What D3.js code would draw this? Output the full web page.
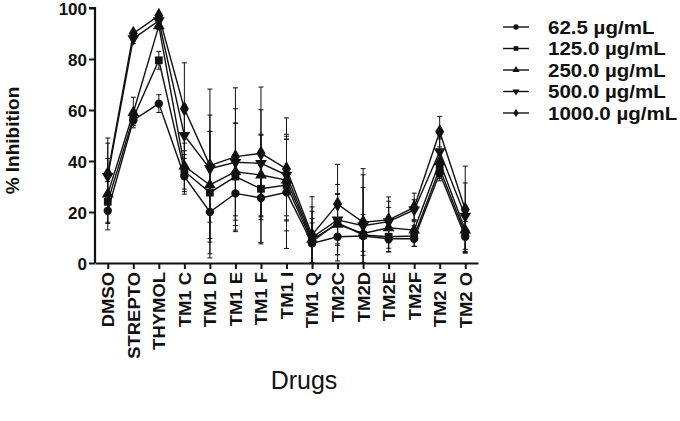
<!DOCTYPE html>
<html>
<head>
<meta charset="utf-8">
<script src="https://cdn.jsdelivr.net/npm/d3@7"></script>
<style>
  body { margin: 0; background: #fff; }
  svg { font-family: "Liberation Sans", Arial, sans-serif; }
</style>
</head>
<body>
<div id="chart"></div>
<script>
var width = 680, height = 421

// categories on the x axis
const drugs = ["DMSO", "STREPTO", "THYMOL", "TM1 C", "TM1 D", "TM1 E", "TM1 F", "TM1 I",
	"TM1 Q", "TM2C", "TM2D", "TM2E", "TM2F", "TM2 N", "TM2 O"]

const seriesNames = ["62.5 µg/mL", "125.0 µg/mL", "250.0 µg/mL", "500.0 µg/mL", "1000.0 µg/mL"]

// mean % inhibition per concentration
const c62 = [20.5, 56, 62.5, 34, 20, 27.3, 25.5, 27.7, 7.7, 10.3, 10.6, 9.5, 9.5, 35.2, 10.3]
const c125 = [24, 57, 79.5, 36, 27.6, 33.9, 29.1, 30.6, 8.4, 15.8, 11, 10.3, 10.6, 37.1, 11.6]
const c250 = [27, 59, 93, 38, 30.6, 35.8, 34.5, 32.5, 9.3, 15.2, 11.6, 13.8, 12.9, 39.7, 12.9]
const c500 = [34, 88, 95, 50, 37, 39.5, 39.1, 34.5, 10, 16.9, 14.6, 16.2, 20.8, 43.7, 18.4]
const c1000 = [35, 90, 97, 60.5, 38.2, 41.7, 43, 36.9, 11, 23.1, 16, 16.9, 21.8, 51.5, 21]

// standard deviations (error bars)
const sd62 = [5, 2, 3.5, 7, 18, 15, 18, 22, 8, 7, 6, 5, 3, 3, 6]
const sd125 = [8, 3, 3.5, 8, 24, 21, 21, 18, 9, 15, 8, 6, 4, 4, 7]
const sd250 = [14, 6, 1.5, 9, 21, 19, 16, 16, 11, 12, 18, 8, 4, 4, 9]
const sd500 = [13, 2, 1.5, 12, 21, 21, 21, 16, 12, 10, 20, 8, 4, 5, 13]
const sd1000 = [14, 1, 1, 18, 30, 27, 26, 20, 15, 15.6, 21, 9, 5.6, 6, 17]

const yTicks = [0, 20, 40, 60, 80, 100]

const means = [c62, c125, c250, c500, c1000]
const sds = [sd62, sd125, sd250, sd500, sd1000]
const symbols = [d3.symbolCircle, d3.symbolSquare, "up", "down", d3.symbolDiamond]

const series = seriesNames.map((name, i) => ({
	name: name,
	symbol: symbols[i],
	values: drugs.map((d, j) => ({ drug: d, mean: means[i][j], sd: sds[i][j] }))
}))

const margin = { left: 95, right: 202, top: 8, bottom: 158 }

const svg = d3.select('#chart')
	.append('svg')
	.attr('width', width)
	.attr('height', height)

const x = d3.scalePoint()
	.domain(drugs)
	.range([margin.left, width - margin.right])
	.padding(0.5)

const y = d3.scaleLinear()
	.domain([0, 100])
	.range([height - margin.bottom, margin.top])

// marker path generator
function markerPath(sym, size) {
	if (sym === "up" || sym === "down") return d3.symbol(d3.symbolTriangle, size)()
	return d3.symbol(sym, size)()
}
function markerTransform(sym) {
	return sym === "down" ? " rotate(180)" : ""
}
const markerSize = [55, 60, 60, 60, 70]

// error bars
const gErr = svg.append("g").attr("stroke", "#111").attr("stroke-width", 1)
series.forEach(s => {
	s.values.forEach(v => {
		const cx = x(v.drug)
		const top = y(Math.min(100, v.mean + v.sd))
		const bot = y(Math.max(0, v.mean - v.sd))
		gErr.append("line").attr("x1", cx).attr("x2", cx).attr("y1", top).attr("y2", bot)
		gErr.append("line").attr("x1", cx - 2.5).attr("x2", cx + 2.5).attr("y1", top).attr("y2", top)
		gErr.append("line").attr("x1", cx - 2.5).attr("x2", cx + 2.5).attr("y1", bot).attr("y2", bot)
	})
})

// lines
const line = d3.line()
	.x(d => x(d.drug))
	.y(d => y(d.mean))

svg.append("g")
	.selectAll("path")
	.data(series)
	.join("path")
	.attr("fill", "none")
	.attr("stroke", "#111")
	.attr("stroke-width", 1.4)
	.attr("d", d => line(d.values))

// markers
series.forEach((s, i) => {
	svg.append("g")
		.selectAll("path")
		.data(s.values)
		.join("path")
		.attr("fill", "#111")
		.attr("transform", d => `translate(${x(d.drug)},${y(d.mean)})` + markerTransform(s.symbol))
		.attr("d", markerPath(s.symbol, markerSize[i]))
})

// axes
const yAxis = svg.append("g")
	.attr("transform", `translate(${margin.left},0)`)
	.call(d3.axisLeft(y).tickValues(yTicks).tickSize(6).tickPadding(2))
yAxis.select(".domain").attr("stroke", "#111").attr("stroke-width", 2.2)
	.attr("d", `M-6,${y(100)}H0V${y(0)}`)
yAxis.selectAll(".tick line").attr("stroke", "#111").attr("stroke-width", 2)
yAxis.selectAll(".tick text")
	.attr("fill", "#111")
	.style("font-size", "17px")
	.style("font-weight", "bold")
	.attr("dy", "0.36em")

const xAxis = svg.append("g")
	.attr("transform", `translate(0,${y(0)})`)
	.call(d3.axisBottom(x).tickSize(6).tickSizeOuter(0))
xAxis.select(".domain").attr("stroke", "#111").attr("stroke-width", 2.2)
xAxis.selectAll(".tick line").attr("stroke", "#111").attr("stroke-width", 2)
xAxis.selectAll(".tick text")
	.attr("fill", "#111")
	.style("font-size", "16.5px")
	.style("font-weight", "bold")
	.attr("text-anchor", "end")
	.attr("transform", "rotate(-90) scale(1.12,1)")
	.attr("x", -8)
	.attr("y", 0)
	.attr("dy", "0.36em")

// axis titles
svg.append("text")
	.attr("transform", `translate(19,${(y(0) + y(100)) / 2 + 5}) rotate(-90)`)
	.attr("text-anchor", "middle")
	.attr("fill", "#111")
	.style("font-size", "19px")
	.style("font-weight", "bold")
	.text("% Inhibition")

svg.append("text")
	.attr("x", 304)
	.attr("y", 389)
	.attr("text-anchor", "middle")
	.attr("fill", "#111")
	.style("font-size", "25px")
	.text("Drugs")

// legend
const legend = svg.append("g")
	.selectAll("g")
	.data(series)
	.join("g")
	.attr("transform", (d, i) => `translate(503,${27 + i * 21.5})`)

legend.append("line")
	.attr("x1", 0).attr("x2", 26)
	.attr("stroke", "#111").attr("stroke-width", 1.4)
legend.append("path")
	.attr("fill", "#111")
	.attr("transform", d => "translate(13,0)" + markerTransform(d.symbol))
	.attr("d", d => markerPath(d.symbol, 22))
legend.append("text")
	.attr("transform", "translate(45,0) scale(1.08,1)")
	.attr("dy", "0.36em")
	.attr("fill", "#111")
	.style("font-size", "19px")
	.style("font-weight", "bold")
	.text(d => d.name)
</script>
</body>
</html>
